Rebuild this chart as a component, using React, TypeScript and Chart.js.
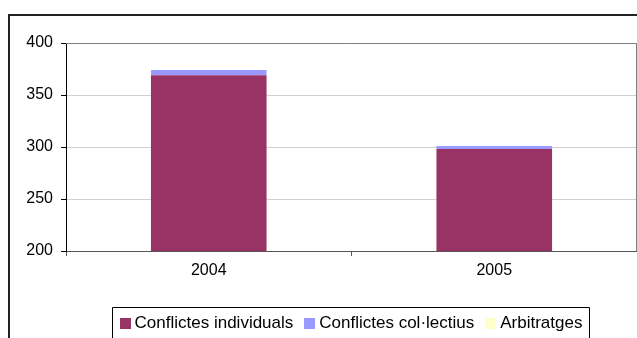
import React, { useEffect, useRef } from "react";
import { Chart, registerables } from "chart.js";

Chart.register(...registerables);

const categories = ["2004", "2005"];
const seriesNames = ["Conflictes individuals", "Conflictes col·lectius", "Arbitratges"];
const individuals = [369, 298];
const collectius = [5, 3];
const arbitratges = [0, 0];
const seriesColors = ["#993366", "#9999FF", "#FFFFCC"];
const yMin = 200;
const yMax = 400;
const yStep = 50;

const FONT = "'Liberation Sans', Arial, sans-serif";

const framePlugin = {
  id: "frame",
  beforeDraw(chart: any) {
    const ctx = chart.ctx;
    ctx.save();
    ctx.fillStyle = "#fff";
    ctx.fillRect(0, 0, chart.width, chart.height);
    ctx.strokeStyle = "#222";
    ctx.lineWidth = 2;
    ctx.strokeRect(9, 15, chart.width + 20, chart.height + 20);
    ctx.restore();
  },
  afterDatasetsDraw(chart: any) {
    const ctx = chart.ctx;
    const a = chart.chartArea;
    ctx.save();
    ctx.strokeStyle = "#808080";
    ctx.lineWidth = 1;
    ctx.beginPath();
    ctx.moveTo(a.left, a.top + 0.5);
    ctx.lineTo(a.right, a.top + 0.5);
    ctx.moveTo(a.right - 0.5, a.top);
    ctx.lineTo(a.right - 0.5, a.bottom);
    ctx.stroke();
    ctx.restore();
  },
  afterDraw(chart: any) {
    const ctx = chart.ctx;
    const ds = chart.data.datasets;
    ctx.save();
    ctx.font = `17px ${FONT}`;
    ctx.textBaseline = "alphabetic";
    const sq = 11;
    const gapSqText = 4;
    const gapItems = 11;
    const widths = ds.map((d: any) => ctx.measureText(d.label).width);
    const total = widths.reduce((s: number, w: number) => s + sq + gapSqText + w, 0) + gapItems * (ds.length - 1);
    const boxL = 112.5, boxR = 589.5, boxT = 307.5;
    ctx.strokeStyle = "#000";
    ctx.lineWidth = 1;
    ctx.beginPath();
    ctx.moveTo(boxL, chart.height + 5);
    ctx.lineTo(boxL, boxT);
    ctx.lineTo(boxR, boxT);
    ctx.lineTo(boxR, chart.height + 5);
    ctx.stroke();
    let x = (boxL + boxR) / 2 - total / 2;
    const baseline = 328;
    ds.forEach((d: any, i: number) => {
      ctx.fillStyle = d.backgroundColor;
      ctx.fillRect(Math.round(x), 318, sq, sq);
      x += sq + gapSqText;
      ctx.fillStyle = "#000";
      ctx.fillText(d.label, x, baseline);
      x += widths[i] + gapItems;
    });
    ctx.restore();
  },
};

export default function App() {
  const ref = useRef<HTMLCanvasElement>(null);
  useEffect(() => {
    if (!ref.current) return;
    const values = [individuals, collectius, arbitratges];
    const chart = new Chart(ref.current, {
      type: "bar",
      data: {
        labels: categories,
        datasets: seriesNames.map((name, i) => ({
          label: name,
          data: values[i],
          backgroundColor: seriesColors[i],
          borderWidth: 0,
          categoryPercentage: 1,
          barPercentage: 0.405,
        })),
      },
      options: {
        responsive: false,
        animation: false,
        layout: { padding: { left: 8, top: 43, right: 0, bottom: 0 } },
        plugins: { legend: { display: false }, tooltip: { enabled: false } },
        scales: {
          x: {
            stacked: true,
            grid: { offset: true, drawOnChartArea: false, drawTicks: true, tickLength: 5, tickColor: "#555" },
            border: { color: "#555", width: 1 },
            ticks: { color: "#000", font: { family: FONT, size: 16 }, padding: 5 },
            afterFit: (s: any) => { s.height = 87; },
          },
          y: {
            stacked: true,
            min: yMin,
            max: yMax,
            ticks: { stepSize: yStep, color: "#000", font: { family: FONT, size: 16 }, padding: 8 },
            grid: { color: "#d0d0d0", tickColor: "#000", tickLength: 5 },
            border: { color: "#000", width: 1 },
            afterFit: (s: any) => { s.width = 58; },
          },
        },
      },
      plugins: [framePlugin],
    });
    return () => chart.destroy();
  }, []);
  return (
    <div style={{ position: "absolute", left: 0, top: 0, width: 637, height: 338 }}>
      <canvas ref={ref} width={637} height={338} style={{ display: "block" }} />
    </div>
  );
}
